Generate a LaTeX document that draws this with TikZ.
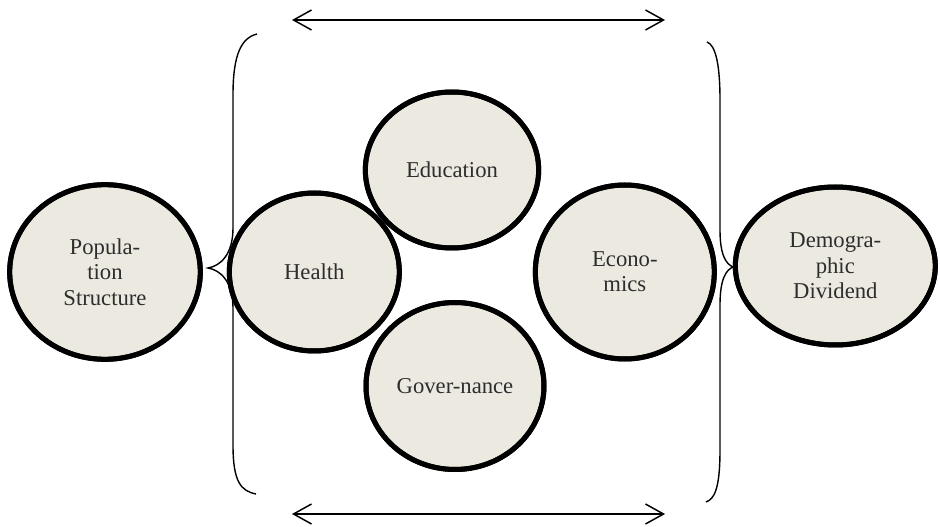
\documentclass[tikz,border=0pt]{standalone}
\usepackage{fontspec}
\setmainfont{Liberation Serif}
\usetikzlibrary{positioning,arrows.meta,shapes.geometric,calc}

\definecolor{bubble}{RGB}{236,234,224}
\definecolor{inkgray}{RGB}{45,45,45}

\begin{document}
\begin{tikzpicture}[x=0.75pt, y=-0.75pt,
  every node/.style={ellipse, draw, line width=3.75pt, fill=bubble, text=inkgray, align=center, inner sep=0pt, font=\fontsize{17}{19}\selectfont},
  span/.style={{Straight Barb[length=13.5pt,width=15pt]}-{Straight Barb[length=13.5pt,width=15pt]}, line width=1.1pt},
  brace/.style={line width=1.05pt}]
\useasboundingbox (0,0) rectangle (940,527);
\node (pop) [minimum width=143pt, minimum height=131pt] at (105,272) {Popula-\\tion\\Structure};
\node (health) [right=18pt of pop, minimum width=127.5pt, minimum height=118.5pt] {Health};
\node (econ) [right=98.25pt of health, minimum width=134.25pt, minimum height=130.5pt] {Econo-\\mics};
\node (demo) [right=12pt of econ, yshift=4.5pt, minimum width=150pt, minimum height=118.5pt] {Demogra-\\phic\\Dividend};
\node (edu) [minimum width=130pt, minimum height=117pt] at (452,170) {Education};
\node (gov) [minimum width=133.5pt, minimum height=125.25pt] at (455,386) {Gover-nance};
% outlines again on top, so the overlapping ones all show
\foreach \bub in {pop,health,econ,demo,edu,gov}
  \draw[line width=3.75pt] let \p0=(\bub.center), \p1=(\bub.east), \p2=(\bub.north) in
    (\p0) ellipse ({\x1-\x0-1.875pt} and {\y2-\y0-1.875pt});
% brace ends and arrow ends
\coordinate (lbtop) at (257,34);
\coordinate (lbtip) at (208,268);
\coordinate (lbbot) at (256,494);
\coordinate (rbtop) at (707,42);
\coordinate (rbtip) at (733,267);
\coordinate (rbbot) at (706,502);
\coordinate (topl) at (292,20);
\coordinate (topr) at (665,20);
\coordinate (botl) at (292,514);
\coordinate (botr) at (665,514);
\draw[brace] (lbtop) .. controls (241,38) and (233,55) .. (233,95) -- (233,228) .. controls (233,255) and (220,266) .. (lbtip) .. controls (220,270) and (233,281) .. (233,308) -- (233,445) .. controls (233,482) and (241,491) .. (lbbot);
\draw[brace] (rbtop) .. controls (715,45) and (720,62) .. (720,100) -- (720,230) .. controls (720,255) and (726,264) .. (rbtip) .. controls (726,270) and (720,279) .. (720,305) -- (720,450) .. controls (720,490) and (714,499) .. (rbbot);
\draw[span] (topl) -- (topr);
\draw[span] (botl) -- (botr);
\end{tikzpicture}
\end{document}
